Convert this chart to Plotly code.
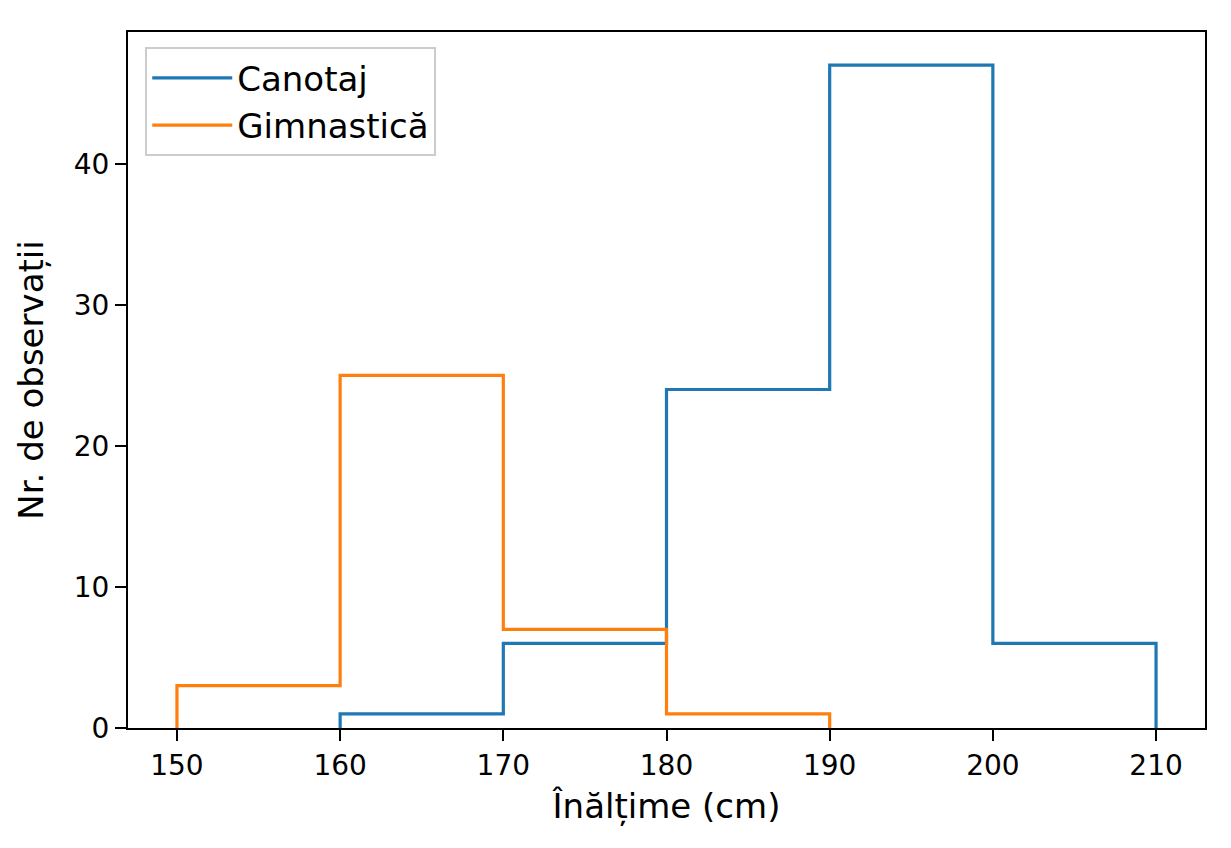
import plotly.graph_objects as go

# histogram bins (cm) and counts
canotaj_edges = [160, 170, 180, 190, 200, 210]
canotaj_counts = [1, 6, 24, 47, 6]

gimn_edges = [150, 160, 170, 180, 190]
gimn_counts = [3, 25, 7, 1]

x_ticks = [150, 160, 170, 180, 190, 200, 210]
y_ticks = [0, 10, 20, 30, 40]


def step_xy(edges, counts):
    # outline of a step histogram, drawn with line_shape='hv'
    xs = [edges[0]] + list(edges)
    ys = [0] + list(counts) + [0]
    return xs, ys


cx, cy = step_xy(canotaj_edges, canotaj_counts)
gx, gy = step_xy(gimn_edges, gimn_counts)

fig = go.Figure()
fig.add_trace(go.Scatter(x=cx, y=cy, mode='lines', name='Canotaj',
                         line=dict(color='#1f77b4', width=3.2, shape='hv')))
fig.add_trace(go.Scatter(x=gx, y=gy, mode='lines', name='Gimnastică',
                         line=dict(color='#ff7f0e', width=3.2, shape='hv')))

font = dict(family='DejaVu Sans', size=28, color='black')

fig.update_layout(
    width=1231, height=848,
    margin=dict(l=120, r=34, t=24, b=128),
    paper_bgcolor='white', plot_bgcolor='white',
    font=font,
    showlegend=True,
    legend=dict(x=0.016, y=0.978, xanchor='left', yanchor='top',
                bgcolor='rgba(255,255,255,0.8)', bordercolor='#cccccc', borderwidth=2,
                font=dict(family='DejaVu Sans', size=34, color='black'),
                itemwidth=80, tracegroupgap=6),
    xaxis=dict(range=[147, 213], tickvals=x_ticks, title=dict(text='Înălțime (cm)', standoff=14),
               showgrid=False, zeroline=False, showline=True, linecolor='black', linewidth=2,
               mirror=True, ticks='outside', ticklen=11, tickwidth=2, tickcolor='black'),
    yaxis=dict(range=[0, 49.35], tickvals=y_ticks, title=dict(text='Nr. de observații', standoff=20),
               showgrid=False, zeroline=False, showline=True, linecolor='black', linewidth=2,
               mirror=True, ticks='outside', ticklen=11, tickwidth=2, tickcolor='black'),
)

fig.write_html("out.html")
